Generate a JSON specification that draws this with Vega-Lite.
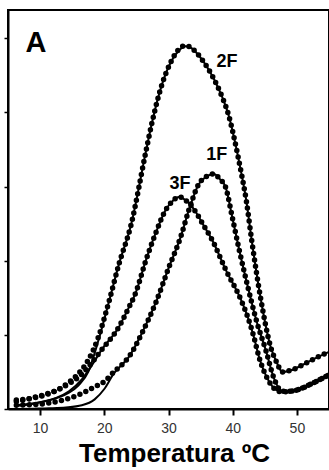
{
  "$schema": "https://vega.github.io/schema/vega-lite/v6.json",
  "autosize": "none",
  "width": 321,
  "height": 399,
  "padding": {"left": 8, "top": 10, "right": 0, "bottom": 61},
  "background": "white",
  "config": {
    "view": {"stroke": "black", "strokeWidth": 2},
    "font": "Liberation Sans"
  },
  "datasets": {
    "curves": [
      {"s": "2F", "t": 6.3, "exp": 0.12, "fit": 0.05},
      {"s": "2F", "t": 8.5, "exp": 0.14, "fit": 0.07},
      {"s": "2F", "t": 10.0, "exp": 0.17, "fit": 0.09},
      {"s": "2F", "t": 11.5, "exp": 0.21, "fit": 0.12},
      {"s": "2F", "t": 13.0, "exp": 0.27, "fit": 0.16},
      {"s": "2F", "t": 14.5, "exp": 0.36, "fit": 0.22},
      {"s": "2F", "t": 16.0, "exp": 0.48, "fit": 0.32},
      {"s": "2F", "t": 17.5, "exp": 0.66, "fit": 0.5},
      {"s": "2F", "t": 19.0, "exp": 0.95, "fit": 0.9},
      {"s": "2F", "t": 20.7, "exp": 1.44, "fit": 1.44},
      {"s": "2F", "t": 22.3, "exp": 1.96, "fit": 1.96},
      {"s": "2F", "t": 24.1, "exp": 2.46, "fit": 2.46},
      {"s": "2F", "t": 26.5, "exp": 3.48, "fit": 3.48},
      {"s": "2F", "t": 27.4, "exp": 3.85, "fit": 3.85},
      {"s": "2F", "t": 29.0, "exp": 4.38, "fit": 4.38},
      {"s": "2F", "t": 30.5, "exp": 4.7, "fit": 4.7},
      {"s": "2F", "t": 31.6, "exp": 4.85, "fit": 4.83},
      {"s": "2F", "t": 32.7, "exp": 4.9, "fit": 4.89},
      {"s": "2F", "t": 33.7, "exp": 4.86, "fit": 4.86},
      {"s": "2F", "t": 34.7, "exp": 4.77, "fit": 4.77},
      {"s": "2F", "t": 36.3, "exp": 4.57, "fit": 4.57},
      {"s": "2F", "t": 37.9, "exp": 4.3, "fit": 4.3},
      {"s": "2F", "t": 39.4, "exp": 3.95, "fit": 3.95},
      {"s": "2F", "t": 40.7, "exp": 3.46, "fit": 3.46},
      {"s": "2F", "t": 41.3, "exp": 3.2, "fit": 3.2},
      {"s": "2F", "t": 42.1, "exp": 2.82, "fit": 2.82},
      {"s": "2F", "t": 43.0, "exp": 2.25, "fit": 2.25},
      {"s": "2F", "t": 44.4, "exp": 1.47, "fit": 1.47},
      {"s": "2F", "t": 45.9, "exp": 0.84, "fit": 0.84},
      {"s": "2F", "t": 46.9, "exp": 0.62, "fit": 0.62},
      {"s": "2F", "t": 47.7, "exp": 0.5, "fit": 0.5},
      {"s": "2F", "t": 49.0, "exp": 0.52, "fit": 0.52},
      {"s": "2F", "t": 51.0, "exp": 0.6, "fit": 0.6},
      {"s": "2F", "t": 53.0, "exp": 0.69, "fit": 0.69},
      {"s": "2F", "t": 55.0, "exp": 0.77, "fit": 0.77},
      {"s": "1F", "t": 6.3, "exp": 0.05, "fit": 0.0},
      {"s": "1F", "t": 9.0, "exp": 0.06, "fit": 0.005},
      {"s": "1F", "t": 11.4, "exp": 0.08, "fit": 0.01},
      {"s": "1F", "t": 14.0, "exp": 0.13, "fit": 0.02},
      {"s": "1F", "t": 16.5, "exp": 0.21, "fit": 0.05},
      {"s": "1F", "t": 18.5, "exp": 0.3, "fit": 0.13},
      {"s": "1F", "t": 20.0, "exp": 0.37, "fit": 0.27},
      {"s": "1F", "t": 21.5, "exp": 0.5, "fit": 0.48},
      {"s": "1F", "t": 23.0, "exp": 0.62, "fit": 0.62},
      {"s": "1F", "t": 23.8, "exp": 0.7, "fit": 0.7},
      {"s": "1F", "t": 25.9, "exp": 1.03, "fit": 1.03},
      {"s": "1F", "t": 28.0, "exp": 1.43, "fit": 1.43},
      {"s": "1F", "t": 30.1, "exp": 1.92, "fit": 1.92},
      {"s": "1F", "t": 31.9, "exp": 2.32, "fit": 2.32},
      {"s": "1F", "t": 33.2, "exp": 2.69, "fit": 2.69},
      {"s": "1F", "t": 34.7, "exp": 3.03, "fit": 3.03},
      {"s": "1F", "t": 36.0, "exp": 3.14, "fit": 3.14},
      {"s": "1F", "t": 37.1, "exp": 3.17, "fit": 3.17},
      {"s": "1F", "t": 38.0, "exp": 3.1, "fit": 3.1},
      {"s": "1F", "t": 38.9, "exp": 2.99, "fit": 2.99},
      {"s": "1F", "t": 39.9, "exp": 2.6, "fit": 2.6},
      {"s": "1F", "t": 41.0, "exp": 2.15, "fit": 2.15},
      {"s": "1F", "t": 42.1, "exp": 1.74, "fit": 1.74},
      {"s": "1F", "t": 43.8, "exp": 1.16, "fit": 1.16},
      {"s": "1F", "t": 45.2, "exp": 0.78, "fit": 0.78},
      {"s": "1F", "t": 46.4, "exp": 0.42, "fit": 0.42},
      {"s": "1F", "t": 47.7, "exp": 0.24, "fit": 0.24},
      {"s": "1F", "t": 49.0, "exp": 0.24, "fit": 0.24},
      {"s": "1F", "t": 50.5, "exp": 0.27, "fit": 0.27},
      {"s": "1F", "t": 52.5, "exp": 0.35, "fit": 0.35},
      {"s": "1F", "t": 55.0, "exp": 0.46, "fit": 0.46},
      {"s": "3F", "t": 6.3, "exp": 0.1, "fit": 0.04},
      {"s": "3F", "t": 8.3, "exp": 0.14, "fit": 0.06},
      {"s": "3F", "t": 10.5, "exp": 0.19, "fit": 0.1},
      {"s": "3F", "t": 12.5, "exp": 0.25, "fit": 0.15},
      {"s": "3F", "t": 14.5, "exp": 0.34, "fit": 0.24},
      {"s": "3F", "t": 16.5, "exp": 0.47, "fit": 0.4},
      {"s": "3F", "t": 18.0, "exp": 0.62, "fit": 0.58},
      {"s": "3F", "t": 19.6, "exp": 0.8, "fit": 0.8},
      {"s": "3F", "t": 22.3, "exp": 1.11, "fit": 1.11},
      {"s": "3F", "t": 23.6, "exp": 1.33, "fit": 1.33},
      {"s": "3F", "t": 24.9, "exp": 1.57, "fit": 1.57},
      {"s": "3F", "t": 26.5, "exp": 2.01, "fit": 2.01},
      {"s": "3F", "t": 28.0, "exp": 2.37, "fit": 2.37},
      {"s": "3F", "t": 29.6, "exp": 2.69, "fit": 2.69},
      {"s": "3F", "t": 30.6, "exp": 2.8, "fit": 2.8},
      {"s": "3F", "t": 31.6, "exp": 2.86, "fit": 2.86},
      {"s": "3F", "t": 33.0, "exp": 2.79, "fit": 2.79},
      {"s": "3F", "t": 34.3, "exp": 2.65, "fit": 2.65},
      {"s": "3F", "t": 35.5, "exp": 2.47, "fit": 2.47},
      {"s": "3F", "t": 36.8, "exp": 2.28, "fit": 2.28},
      {"s": "3F", "t": 38.9, "exp": 1.88, "fit": 1.88},
      {"s": "3F", "t": 41.4, "exp": 1.45, "fit": 1.45},
      {"s": "3F", "t": 42.3, "exp": 1.25, "fit": 1.25},
      {"s": "3F", "t": 43.3, "exp": 0.97, "fit": 0.97},
      {"s": "3F", "t": 44.1, "exp": 0.7, "fit": 0.7},
      {"s": "3F", "t": 45.6, "exp": 0.38, "fit": 0.38},
      {"s": "3F", "t": 46.7, "exp": 0.26, "fit": 0.26},
      {"s": "3F", "t": 47.7, "exp": 0.23, "fit": 0.23},
      {"s": "3F", "t": 49.0, "exp": 0.24, "fit": 0.24},
      {"s": "3F", "t": 50.5, "exp": 0.27, "fit": 0.27},
      {"s": "3F", "t": 52.5, "exp": 0.35, "fit": 0.35},
      {"s": "3F", "t": 55.0, "exp": 0.46, "fit": 0.46}
    ],
    "labels": [
      {"label": "2F", "t": 39.1, "y": 4.68},
      {"label": "1F", "t": 37.5, "y": 3.42},
      {"label": "3F", "t": 31.8, "y": 3.03}
    ],
    "panel": [
      {"label": "A", "t": 9.35, "y": 4.93}
    ]
  },
  "encoding": {
    "x": {
      "field": "t",
      "type": "quantitative",
      "scale": {"domain": [5, 55], "nice": false, "zero": false},
      "axis": {
        "values": [10, 20, 30, 40, 50],
        "grid": false,
        "domainColor": "black",
        "domainWidth": 2,
        "tickColor": "black",
        "tickWidth": 2,
        "tickSize": 6,
        "labelFontSize": 14,
        "labelColor": "#333",
        "labelPadding": 6,
        "labelFont": "Liberation Sans",
        "title": "Temperatura ºC",
        "titleFont": "Liberation Sans",
        "titleFontSize": 26,
        "titleFontWeight": "bold",
        "titleColor": "black",
        "titleX": 166,
        "titleY": 52,
        "titleBaseline": "alphabetic"
      }
    }
  },
  "layer": [
    {
      "data": {"name": "curves"},
      "mark": {"type": "line", "color": "black", "strokeWidth": 2, "interpolate": "monotone"},
      "encoding": {
        "y": {
          "field": "fit",
          "type": "quantitative",
          "scale": {"domain": [0, 5.38], "nice": false},
          "axis": {
            "values": [0, 1, 2, 3, 4, 5],
            "labels": false,
            "grid": false,
            "title": null,
            "domainColor": "black",
            "domainWidth": 2,
            "tickColor": "black",
            "tickWidth": 1.5,
            "tickSize": 4
          }
        },
        "detail": {"field": "s"}
      }
    },
    {
      "data": {"name": "curves"},
      "mark": {"type": "line", "color": "black", "strokeWidth": 5.5, "strokeCap": "round", "strokeDash": [0, 6.5], "interpolate": "monotone"},
      "encoding": {
        "y": {"field": "exp", "type": "quantitative"},
        "detail": {"field": "s"}
      }
    },
    {
      "data": {"name": "labels"},
      "mark": {"type": "text", "font": "Liberation Sans", "fontWeight": "bold", "fontSize": 18, "color": "black", "align": "center", "baseline": "middle"},
      "encoding": {
        "y": {"field": "y", "type": "quantitative"},
        "text": {"field": "label"}
      }
    },
    {
      "data": {"name": "panel"},
      "mark": {"type": "text", "font": "Liberation Sans", "fontWeight": "bold", "fontSize": 29, "color": "black", "align": "center", "baseline": "middle"},
      "encoding": {
        "y": {"field": "y", "type": "quantitative"},
        "text": {"field": "label"}
      }
    }
  ]
}
